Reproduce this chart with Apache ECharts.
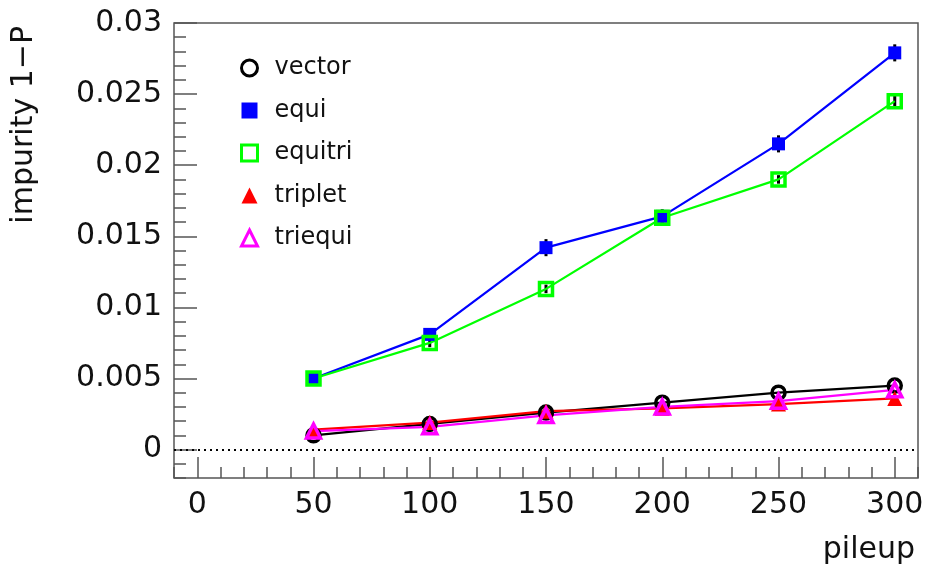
<!DOCTYPE html>
<html>
<head>
<meta charset="utf-8">
<title>impurity vs pileup</title>
<script src="https://cdn.jsdelivr.net/npm/echarts@6/dist/echarts.min.js"></script>
<style>
  html, body { margin: 0; padding: 0; background: #fff; }
  #chart { width: 927px; height: 570px; }
</style>
</head>
<body>
<div id="chart"></div>
<script>
// pileup points
var pileup = [50, 100, 150, 200, 250, 300];

// impurity 1-P per method
var vector = [0.0010, 0.0018, 0.0026, 0.0033, 0.0040, 0.0045];
var equi = [0.0050, 0.0081, 0.0142, 0.0164, 0.0215, 0.0279];
var equiErr = [0.0002, 0.0004, 0.0006, 0.0005, 0.0006, 0.0006];
var equitri = [0.0050, 0.0075, 0.0113, 0.0163, 0.0190, 0.0245];
var equitriErr = [0.0002, 0.0003, 0.0003, 0.0004, 0.0003, 0.0004];
var triplet = [0.0014, 0.0019, 0.0027, 0.0029, 0.0032, 0.0036];
var triequi = [0.0013, 0.0016, 0.0024, 0.0030, 0.0034, 0.0042];

// axis ticks
var xMajor = [0, 50, 100, 150, 200, 250, 300];
var yMajor = [0, 0.005, 0.01, 0.015, 0.02, 0.025, 0.03];

(function() {
  'use strict';

  var FONT = 'DejaVu Sans';
  var TICK = '#555';
  var X_MIN = -10, X_MAX = 310, Y_MIN = -0.002, Y_MAX = 0.03;

  var xMinor = [], yMinor = [], i;
  for (i = -1; i <= 31; i++) { xMinor.push(i * 10); }
  for (i = -2; i <= 30; i++) { yMinor.push(i / 1000); }

  function pairs(values) {
    return pileup.map(function(p, k) { return [p, values[k]]; });
  }

  function errorBars(params, api) {
    var x = api.value(0), y = api.value(1), e = api.value(2);
    var lo = api.coord([x, y - e]), hi = api.coord([x, y + e]);
    return {
      type: 'line',
      shape: { x1: lo[0], y1: lo[1], x2: hi[0], y2: hi[1] },
      style: { stroke: '#000', lineWidth: 3 }
    };
  }

  function errSeries(values, errs) {
    return {
      type: 'custom',
      renderItem: errorBars,
      data: pileup.map(function(p, k) { return [p, values[k], errs[k]]; }),
      silent: true,
      z: 2
    };
  }

  // connecting line + separate markers (scatter keeps thick open borders)
  function methodSeries(name, values, color, symbol, size, filled) {
    return [{
      name: name,
      type: 'line',
      data: pairs(values),
      symbol: 'none',
      lineStyle: { color: color, width: 2.2 },
      emphasis: { disabled: true },
      z: 3
    }, {
      name: name,
      type: 'scatter',
      data: pairs(values),
      symbol: symbol,
      symbolSize: size,
      itemStyle: filled ?
        { color: color, borderWidth: 0, opacity: 1 } :
        { color: 'rgba(0,0,0,0)', borderColor: color, borderWidth: 3.5, opacity: 1 },
      emphasis: { disabled: true },
      z: 4
    }];
  }

  // axis with nothing drawn, pieces switched on by "extra"
  function hiddenAxis(extra) {
    var base = {
      type: 'value',
      axisLine: { show: false, onZero: false },
      axisLabel: { show: false },
      axisTick: { show: false },
      splitLine: { show: false }
    };
    for (var k in extra) { base[k] = extra[k]; }
    return base;
  }

  var chart = echarts.init(document.getElementById('chart'));

  var series = [{
    type: 'line',
    data: [],
    silent: true,
    markLine: {
      silent: true,
      symbol: 'none',
      label: { show: false },
      lineStyle: { color: '#000', type: [2, 4], width: 2 },
      data: [{ yAxis: 0 }]
    }
  }, errSeries(equi, equiErr), errSeries(equitri, equitriErr)];

  series = series
    .concat(methodSeries('vector', vector, '#000000', 'circle', 13, false))
    .concat(methodSeries('equi', equi, '#0000ff', 'rect', 13, true))
    .concat(methodSeries('equitri', equitri, '#00ff00', 'rect', 13, false))
    .concat(methodSeries('triplet', triplet, '#ff0000', 'triangle', 15, true))
    .concat(methodSeries('triequi', triequi, '#ff00ff', 'triangle', 14, false));

  var options = {
    animation: false,
    backgroundColor: '#fff',
    textStyle: { fontFamily: FONT },
    grid: {
      left: 174, right: 9, top: 23, bottom: 92,
      show: true, borderColor: TICK, borderWidth: 1.5
    },
    legend: {
      orient: 'vertical',
      left: 235,
      top: 51,
      itemWidth: 16,
      itemHeight: 16,
      itemGap: 18.5,
      selectedMode: false,
      textStyle: { fontFamily: FONT, fontSize: 24, color: '#111', lineHeight: 24, padding: [0, 0, 0, 12] },
      data: [
        { name: 'vector', icon: 'circle',
          itemStyle: { color: '#fff', borderColor: '#000', borderWidth: 3 } },
        { name: 'equi', icon: 'rect',
          itemStyle: { color: '#0000ff', borderWidth: 0 } },
        { name: 'equitri', icon: 'rect',
          itemStyle: { color: '#fff', borderColor: '#00ff00', borderWidth: 3 } },
        { name: 'triplet', icon: 'triangle',
          itemStyle: { color: '#ff0000', borderWidth: 0 } },
        { name: 'triequi', icon: 'triangle',
          itemStyle: { color: '#fff', borderColor: '#ff00ff', borderWidth: 3 } }
      ]
    },
    xAxis: [
      hiddenAxis({
        position: 'bottom', min: X_MIN, max: X_MAX,
        axisTick: { show: true, inside: true, length: 21, customValues: xMajor,
          lineStyle: { color: TICK, width: 1.5 } },
        axisLabel: { show: true, customValues: xMajor, margin: 12,
          fontFamily: FONT, fontSize: 30, color: '#111' }
      }),
      hiddenAxis({
        position: 'bottom', min: X_MIN, max: X_MAX,
        axisTick: { show: true, inside: true, length: 11, customValues: xMinor,
          lineStyle: { color: TICK, width: 1.5 } }
      }),
      hiddenAxis({
        position: 'bottom', min: X_MIN, max: X_MAX, offset: 72,
        name: 'pileup', nameLocation: 'end', nameGap: -3,
        nameTextStyle: { fontFamily: FONT, fontSize: 30, color: '#111',
          align: 'right', verticalAlign: 'middle' }
      })
    ],
    yAxis: [
      hiddenAxis({
        position: 'left', min: Y_MIN, max: Y_MAX,
        axisTick: { show: true, inside: true, length: 23, customValues: yMajor,
          lineStyle: { color: TICK, width: 1.5 } },
        axisLabel: { show: true, customValues: yMajor, margin: 12,
          fontFamily: FONT, fontSize: 30, color: '#111',
          formatter: function(v) { return String(+v.toFixed(3)); } }
      }),
      hiddenAxis({
        position: 'left', min: Y_MIN, max: Y_MAX,
        axisTick: { show: true, inside: true, length: 12, customValues: yMinor,
          lineStyle: { color: TICK, width: 1.5 } }
      }),
      hiddenAxis({
        position: 'left', min: Y_MIN, max: Y_MAX, offset: 150,
        name: 'impurity 1\u2212P', nameLocation: 'end', nameGap: -3, nameRotate: 90,
        nameTextStyle: { fontFamily: FONT, fontSize: 30, color: '#111',
          align: 'right', verticalAlign: 'middle' }
      })
    ],
    series: series
  };

  chart.setOption(options);
})();
</script>
</body>
</html>
